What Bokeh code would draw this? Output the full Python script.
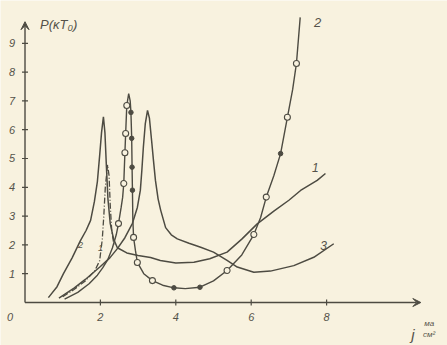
import math
from bokeh.plotting import figure
from bokeh.models import Range1d, Label, Arrow, VeeHead
from bokeh.core.properties import value
from bokeh.embed import file_html
from bokeh.resources import INLINE

# ---- data ----
# curve 1 (solid, narrow peak near j=2, then slow rise)
x1 = [0.62, 0.85, 1.02, 1.25, 1.47, 1.62, 1.74, 1.84, 1.92, 1.98, 2.03, 2.08, 2.12, 2.16, 2.2, 2.26, 2.35, 2.45,
      2.7, 3.0, 3.33, 3.59, 4.0, 4.48, 4.9, 5.36, 5.75, 6.16, 6.6, 7.0, 7.31, 7.75, 7.97]
y1 = [0.17, 0.55, 1.0, 1.55, 2.15, 2.5, 2.85, 3.5, 4.2, 5.1, 5.9, 6.45, 5.9, 4.7, 3.6, 2.75, 2.2, 1.9,
      1.72, 1.63, 1.56, 1.46, 1.37, 1.4, 1.52, 1.75, 2.2, 2.73, 3.17, 3.55, 3.89, 4.24, 4.48]
# curve 1, dash-dot branch
x1b = [1.0, 1.3, 1.6, 1.85, 1.98, 2.05, 2.09, 2.13, 2.19, 2.23, 2.26, 2.3, 2.36]
y1b = [0.2, 0.45, 0.75, 1.1, 1.45, 2.2, 3.0, 4.0, 4.78, 4.4, 3.4, 2.5, 2.0]
# curve 2 (with circles)
x2 = [1.05, 1.4, 1.7, 1.92, 2.06, 2.2, 2.32, 2.42, 2.48, 2.55, 2.59, 2.62, 2.65, 2.67, 2.7, 2.75,
      2.79, 2.81, 2.83, 2.84, 2.85, 2.86, 2.88, 2.93, 2.98, 3.15, 3.38, 3.65, 3.95, 4.25, 4.64, 5.0,
      5.36, 5.75, 6.07, 6.25, 6.4, 6.6, 6.78, 6.96, 7.1, 7.2, 7.3]
y2 = [0.12, 0.35, 0.65, 0.95, 1.2, 1.5, 1.9, 2.35, 2.74, 3.3, 3.65, 4.13, 5.2, 5.87, 6.84, 7.25,
      7.0, 6.6, 5.7, 4.7, 3.9, 2.9, 2.26, 1.8, 1.39, 1.0, 0.76, 0.6, 0.51, 0.48, 0.53, 0.75,
      1.11, 1.65, 2.36, 2.95, 3.66, 4.4, 5.17, 6.43, 7.4, 8.3, 9.9]
circ_x = [2.48, 2.62, 2.65, 2.67, 2.7, 2.88, 2.98, 3.38, 5.36, 6.07, 6.4, 6.96, 7.2]
circ_y = [2.74, 4.13, 5.2, 5.87, 6.84, 2.26, 1.39, 0.76, 1.11, 2.36, 3.66, 6.43, 8.3]
dot_x = [2.81, 2.83, 2.84, 2.85, 3.95, 4.64, 6.78]
dot_y = [6.6, 5.7, 4.7, 3.9, 0.51, 0.53, 5.17]
# curve 3 (solid, peak near j=3.25)
x3 = [0.9, 1.3, 1.6, 2.0, 2.25, 2.45, 2.65, 2.85, 2.98, 3.06, 3.1, 3.14, 3.19, 3.25, 3.3, 3.36, 3.41,
      3.46, 3.53, 3.6, 3.73, 3.88, 4.04, 4.35, 4.66, 5.0, 5.36, 5.63, 6.07, 6.51, 7.13, 7.66, 8.19]
y3 = [0.15, 0.5, 0.8, 1.25, 1.55, 1.87, 2.25, 2.75, 3.3, 3.9, 4.6, 5.4, 6.2, 6.67, 6.4, 5.6, 4.9,
      4.24, 3.6, 3.2, 2.6, 2.35, 2.21, 2.06, 1.92, 1.75, 1.46, 1.23, 1.05, 1.09, 1.28, 1.57, 2.04]

x_ticks = [2, 4, 6, 8]
y_ticks = [1, 2, 3, 4, 5, 6, 7, 8, 9]
x_max = 10.5
y_max = 9.75

INK = "#4d4b42"
TXT = "#55524a"
BG = "#f8f2df"
FONT = "Liberation Sans"

p = figure(width=447, height=345, output_backend="svg", toolbar_location=None,
           x_range=Range1d(-0.65, 11.207), y_range=Range1d(-1.493, 10.486),
           x_axis_location=None, y_axis_location=None,
           min_border_left=0, min_border_right=0, min_border_top=0, min_border_bottom=0)
p.background_fill_color = BG
p.border_fill_color = BG
p.outline_line_color = None
p.grid.visible = False

# axes with arrow heads
p.add_layout(Arrow(end=VeeHead(size=8, fill_color=INK, line_color=INK),
                   x_start=0, y_start=0, x_end=0, y_end=y_max, line_color=INK, line_width=1.4))
p.add_layout(Arrow(end=VeeHead(size=8, fill_color=INK, line_color=INK),
                   x_start=0, y_start=0, x_end=x_max, y_end=0, line_color=INK, line_width=1.4))
# tick marks
p.scatter(x_ticks, [0] * len(x_ticks), marker="dash", angle=math.pi / 2, size=6,
          line_color=INK, line_width=1.2)
p.scatter([0] * len(y_ticks), y_ticks, marker="dash", size=6, line_color=INK, line_width=1.2)
# tick labels
p.text(x=x_ticks, y=[0] * len(x_ticks), text=[str(t) for t in x_ticks], y_offset=10,
       text_align="center", text_baseline="top", text_font=value(FONT),
       text_font_style="italic", text_font_size="11px", text_color=TXT)
p.text(x=[0] * len(y_ticks), y=y_ticks, text=[str(t) for t in y_ticks], x_offset=-13,
       text_align="center", text_baseline="middle", text_font=value(FONT),
       text_font_style="italic", text_font_size="11px", text_color=TXT)
p.text(x=[0], y=[0], text=["0"], x_offset=-15, y_offset=10,
       text_align="center", text_baseline="top", text_font=value(FONT),
       text_font_style="italic", text_font_size="11px", text_color=TXT)

# curves
p.line(x1, y1, line_color=INK, line_width=1.5)
p.line(x1b, y1b, line_color=INK, line_width=1.3, line_dash="6 2 1 2")
p.line(x2, y2, line_color=INK, line_width=1.4)
p.line(x3, y3, line_color=INK, line_width=1.5)
p.scatter(circ_x, circ_y, size=6, marker="circle", fill_color=BG, line_color=INK, line_width=1.1)
p.scatter(dot_x, dot_y, size=4.5, marker="circle", fill_color=INK, line_color=INK)


def lab(txt, x, y, size="12px", baseline="middle", align="center"):
    p.add_layout(Label(x=x, y=y, text=txt, text_font=FONT, text_font_style="italic",
                       text_font_size=size, text_color=TXT,
                       text_baseline=baseline, text_align=align))


lab("P(κT₀)", 0.4, 9.38, "13px", baseline="bottom", align="left")
lab("2", 7.76, 9.72, "13px")
lab("1", 7.7, 4.69, "12px")
lab("3", 7.92, 1.98, "12px")
lab("1", 2.0, 1.9, "9px")
lab("2", 1.47, 1.98, "9px")
lab("j", 10.29, -1.1, "15px", baseline="alphabetic")
lab("ма", 10.72, -0.9, "8px", baseline="bottom")
lab("см²", 10.72, -0.97, "8px", baseline="top")

open("out.html", "w").write(file_html(p, INLINE))
